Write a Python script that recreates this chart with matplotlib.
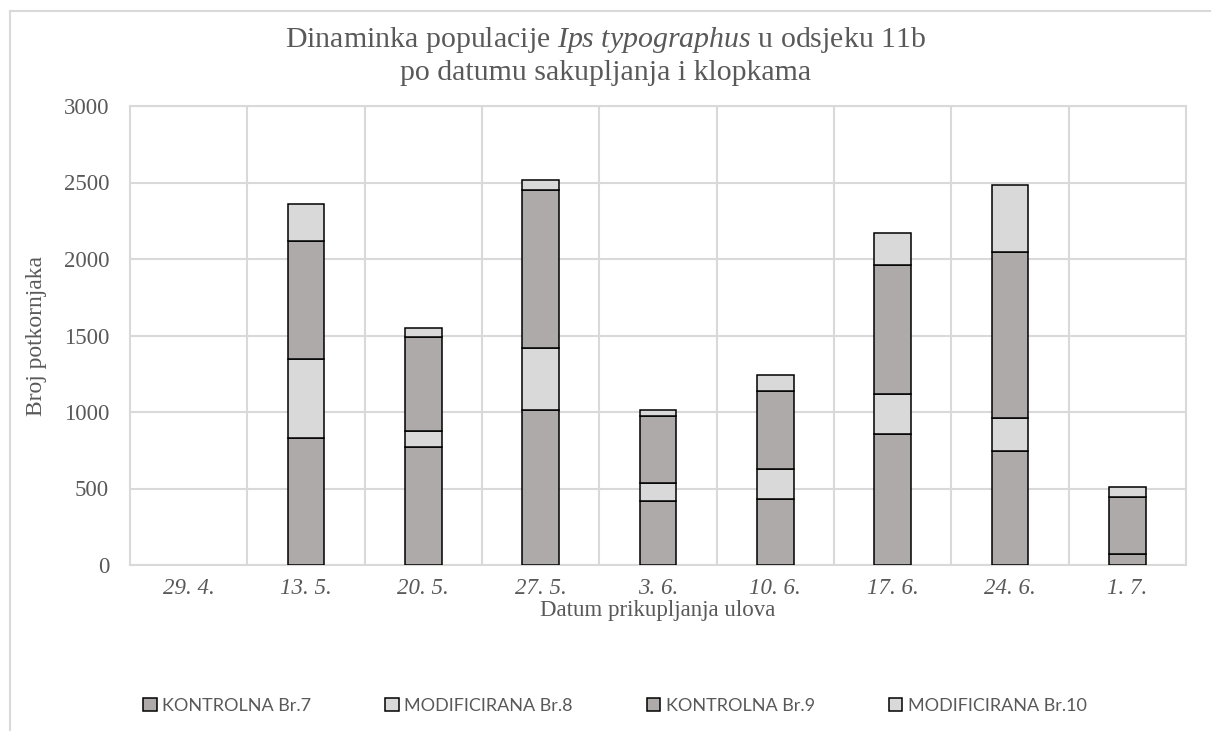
import numpy as np
import matplotlib
matplotlib.use("Agg")
import matplotlib.pyplot as plt
from matplotlib.lines import Line2D
from matplotlib.patches import Patch

# data
datumi = ["29. 4.", "13. 5.", "20. 5.", "27. 5.", "3. 6.", "10. 6.", "17. 6.", "24. 6.", "1. 7."]
kontrolna_7 = [0, 828, 769, 1011, 420, 431, 856, 745, 72]
modificirana_8 = [0, 516, 109, 407, 118, 194, 260, 216, 0]
kontrolna_9 = [0, 771, 610, 1033, 434, 514, 847, 1085, 370]
modificirana_10 = [0, 242, 59, 65, 43, 101, 205, 439, 68]

serije = [
    ("KONTROLNA Br.7", kontrolna_7, "#AEAAAA"),
    ("MODIFICIRANA Br.8", modificirana_8, "#D9D9D9"),
    ("KONTROLNA Br.9", kontrolna_9, "#AEAAAA"),
    ("MODIFICIRANA Br.10", modificirana_10, "#D9D9D9"),
]

plt.rcParams["mathtext.fontset"] = "custom"
plt.rcParams["mathtext.rm"] = "Liberation Serif"
plt.rcParams["mathtext.it"] = "Liberation Serif:italic"

siva = "#595959"
serif = "Liberation Serif"

fig = plt.figure(figsize=(12.11, 7.31), dpi=100)
ax = fig.add_axes([130 / 1211, 1 - 565 / 731, 1056 / 1211, 459 / 731])

x = np.arange(len(datumi))
dno = np.zeros(len(datumi))
rucke = []
for ime, vrijednosti, boja in serije:
    v = np.array(vrijednosti, dtype=float)
    rubovi = ["black" if h > 0 else "none" for h in v]
    ax.bar(x, v, 0.31, bottom=dno, color=boja, edgecolor=rubovi, linewidth=1.1, zorder=3)
    rucke.append(Patch(facecolor=boja, edgecolor="black", linewidth=1.1, label=ime))
    dno += v

ax.set_xlim(-0.5, len(datumi) - 0.5)
ax.set_ylim(0, 3000)
ax.set_yticks(np.arange(0, 3001, 500))
ax.set_xticks(x)
ax.set_xticklabels(datumi, fontstyle="italic", family=serif, fontsize=16.5, color=siva)
for t in ax.get_yticklabels():
    t.set_family(serif)
ax.tick_params(axis="y", length=0, pad=15, labelsize=16.5, labelcolor=siva)
ax.tick_params(axis="x", length=0, pad=9)

ax.set_xticks(np.arange(0.5, len(datumi) - 0.5), minor=True)
ax.tick_params(axis="x", which="minor", length=0)
ax.grid(axis="y", color="#D9D9D9", linewidth=1.5, zorder=0)
ax.grid(axis="x", which="minor", color="#D9D9D9", linewidth=1.5, zorder=0)
for s in ax.spines.values():
    s.set_color("#D9D9D9")
    s.set_linewidth(1.5)

ax.set_ylabel("Broj potkornjaka", family=serif, fontsize=17, color=siva, labelpad=12)
ax.set_xlabel("Datum prikupljanja ulova", family=serif, fontsize=16.5, color=siva, labelpad=1)

fig.text(0.5, 1 - 40 / 731, r"Dinaminka populacije $\mathit{Ips\ typographus}$ u odsjeku 11b",
         ha="center", va="center", family=serif, fontsize=21.5, color=siva)
fig.text(0.5, 1 - 73 / 731, "po datumu sakupljanja i klopkama",
         ha="center", va="center", family=serif, fontsize=21.5, color=siva)

leg = ax.legend(handles=rucke, loc="center", bbox_to_anchor=(615 / 1211, 1 - 706 / 731),
                bbox_transform=fig.transFigure, ncol=4, frameon=False,
                prop={"family": "Lato", "size": 13}, handlelength=0.75,
                handleheight=0.75, handletextpad=0.3, columnspacing=4.1)
for t in leg.get_texts():
    t.set_color(siva)

# chart area frame
fig.add_artist(Line2D([10 / 1211, 10 / 1211], [0, 1 - 11 / 731], color="#D9D9D9",
                      linewidth=1.5, transform=fig.transFigure))
fig.add_artist(Line2D([10 / 1211, 1], [1 - 11 / 731, 1 - 11 / 731], color="#D9D9D9",
                      linewidth=1.5, transform=fig.transFigure))

fig.savefig("out.png", dpi=100)
